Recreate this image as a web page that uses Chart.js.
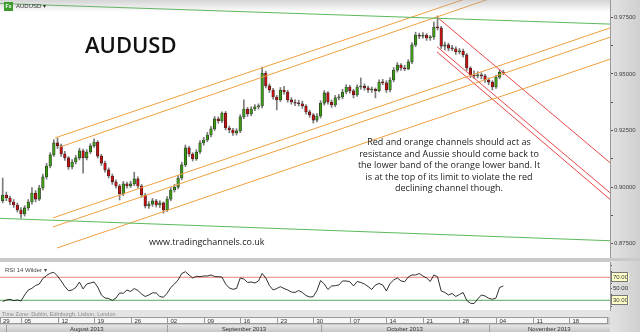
<!DOCTYPE html>
<html>
<head>
<meta charset="utf-8">
<script src="https://cdn.jsdelivr.net/npm/chart.js@4.4.0/dist/chart.umd.min.js"></script>
<style>
  body { margin: 0; width: 640px; height: 332px; overflow: hidden; position: relative; background: #c9c9c9; font-family: 'Liberation Sans', sans-serif; }
  canvas { position: absolute; left: 0; }
  #mainChart { top: 0; }
  #rsiChart { top: 261px; }
  .txt { position: absolute; white-space: nowrap; }
  #topShade { position: absolute; left: 0; top: 0; width: 610px; height: 12px; background: linear-gradient(rgba(160,160,160,.45), rgba(255,255,255,0)); }
  #hdr { left: 4px; top: 2px; font-size: 6px; line-height: 9px; color: #333; }
  #hdr b { display: inline-block; width: 9px; height: 9px; background: #3a9a2a; color: #fff; font-size: 5px; text-align: center; margin-right: 3px; vertical-align: top; }
  #title { left: 85px; top: 33px; font: 600 22px/22px 'Open Sans', sans-serif; color: #111; }
  #note { left: 329px; top: 136px; width: 240px; text-align: center; font: 9px/11.6px 'Open Sans', sans-serif; color: #222; }
  #site { left: 149px; top: 236px; font: 9px/12px 'Open Sans', sans-serif; color: #222; }
  #rsiName { left: 5px; top: 266px; font-size: 6px; color: #444; }
</style>
</head>
<body>
<canvas id="mainChart" width="640" height="258"></canvas>
<canvas id="rsiChart" width="640" height="71"></canvas>
<div id="topShade"></div>
<div class="txt" id="hdr"><b>Fx</b>AUDUSD &#9662;</div>
<div class="txt" id="title">AUDUSD</div>
<div class="txt" id="note">Red and orange channels should act as<br>resistance and Aussie should come back to<br>the lower band of the orange lower band. It<br>is at the top of its limit to violate the red<br>declining channel though.</div>
<div class="txt" id="site">www.tradingchannels.co.uk</div>
<div class="txt" id="rsiName">RSI 14 Wilder &#9662;</div>
<script>
// x values are trading-day indexes, Mon 29 Jul 2013 = 0; two candles per day
const FIRST_DAY = 2.5;
const STEP = 0.5;
const FIRST_OPEN = 0.8940;

const closes = [
  0.8965, 0.8952, 0.8934, 0.8921, 0.8899, 0.8881, 0.8908, 0.8934, 0.8974, 0.8947,
  0.8996, 0.9045, 0.9093, 0.9142, 0.9195, 0.9182, 0.9146, 0.9129, 0.9089, 0.9111,
  0.9129, 0.9160, 0.9129, 0.9155, 0.9182, 0.9199, 0.9137, 0.9106, 0.9076, 0.9049,
  0.9023, 0.9005, 0.8970, 0.9014, 0.9005, 0.9014, 0.9036, 0.9005, 0.8965, 0.8917,
  0.8925, 0.8939, 0.8921, 0.8930, 0.8899, 0.8947, 0.8987, 0.9000, 0.9040, 0.9098,
  0.9173, 0.9146, 0.9124, 0.9155, 0.9195, 0.9208, 0.9230, 0.9257, 0.9301, 0.9292,
  0.9327, 0.9261, 0.9252, 0.9239, 0.9248, 0.9310, 0.9345, 0.9323, 0.9345, 0.9354,
  0.9358, 0.9504, 0.9447, 0.9429, 0.9398, 0.9385, 0.9429, 0.9420, 0.9385, 0.9376,
  0.9371, 0.9368, 0.9358, 0.9332, 0.9319, 0.9296, 0.9314, 0.9371, 0.9416, 0.9376,
  0.9363, 0.9394, 0.9398, 0.9420, 0.9442, 0.9425, 0.9407, 0.9442, 0.9446, 0.9438,
  0.9429, 0.9432, 0.9426, 0.9464, 0.9460, 0.9429, 0.9473, 0.9517, 0.9539, 0.9526,
  0.9522, 0.9553, 0.9628, 0.9672, 0.9667, 0.9672, 0.9659, 0.9663, 0.9707, 0.9703,
  0.9623, 0.9628, 0.9614, 0.9611, 0.9597, 0.9601, 0.9584, 0.9526, 0.9495, 0.9491,
  0.9495, 0.9491, 0.9473, 0.9464, 0.9442, 0.9486, 0.9508, 0.9504
];
const highs = [
  0.9040, 0.8978, 0.8960, 0.8945, 0.8930, 0.8910, 0.8918, 0.8945, 0.8998, 0.8985,
  0.9008, 0.9058, 0.9105, 0.9152, 0.9210, 0.9217, 0.9190, 0.9158, 0.9135, 0.9122,
  0.9140, 0.9172, 0.9168, 0.9165, 0.9192, 0.9213, 0.9205, 0.9145, 0.9115, 0.9085,
  0.9058, 0.9032, 0.9012, 0.9025, 0.9022, 0.9026, 0.9066, 0.9045, 0.9012, 0.8972,
  0.8936, 0.8950, 0.8946, 0.8940, 0.8935, 0.8958, 0.8998, 0.9012, 0.9052, 0.9110,
  0.9186, 0.9180, 0.9152, 0.9165, 0.9206, 0.9220, 0.9242, 0.9268, 0.9312, 0.9310,
  0.9332, 0.9334, 0.9270, 0.9260, 0.9258, 0.9320, 0.9385, 0.9352, 0.9355, 0.9365,
  0.9368, 0.9530, 0.9512, 0.9456, 0.9436, 0.9405, 0.9440, 0.9445, 0.9428, 0.9395,
  0.9386, 0.9384, 0.9380, 0.9365, 0.9340, 0.9325, 0.9325, 0.9382, 0.9426, 0.9422,
  0.9385, 0.9405, 0.9410, 0.9432, 0.9452, 0.9450, 0.9432, 0.9452, 0.9482, 0.9456,
  0.9446, 0.9442, 0.9438, 0.9474, 0.9476, 0.9470, 0.9484, 0.9528, 0.9550, 0.9546,
  0.9538, 0.9563, 0.9638, 0.9684, 0.9680, 0.9683, 0.9678, 0.9670, 0.9729, 0.9756,
  0.9710, 0.9640, 0.9636, 0.9626, 0.9620, 0.9612, 0.9610, 0.9590, 0.9532, 0.9514,
  0.9510, 0.9505, 0.9498, 0.9482, 0.9470, 0.9495, 0.9518, 0.9516
];
const lows = [
  0.8930, 0.8940, 0.8922, 0.8910, 0.8890, 0.8863, 0.8872, 0.8898, 0.8925, 0.8935,
  0.8940, 0.8988, 0.9035, 0.9085, 0.9135, 0.9170, 0.9135, 0.9118, 0.9078, 0.9080,
  0.9102, 0.9120, 0.9062, 0.9120, 0.9148, 0.9175, 0.9128, 0.9096, 0.9066, 0.9040,
  0.9012, 0.8995, 0.8943, 0.8962, 0.8995, 0.8998, 0.9006, 0.8996, 0.8955, 0.8908,
  0.8906, 0.8915, 0.8912, 0.8910, 0.8885, 0.8892, 0.8940, 0.8978, 0.8992, 0.9032,
  0.9090, 0.9136, 0.9115, 0.9118, 0.9148, 0.9185, 0.9200, 0.9222, 0.9250, 0.9282,
  0.9285, 0.9252, 0.9240, 0.9228, 0.9230, 0.9240, 0.9302, 0.9312, 0.9315, 0.9338,
  0.9345, 0.9350, 0.9438, 0.9418, 0.9388, 0.9341, 0.9378, 0.9410, 0.9375, 0.9366,
  0.9360, 0.9358, 0.9348, 0.9322, 0.9308, 0.9283, 0.9288, 0.9305, 0.9362, 0.9366,
  0.9352, 0.9355, 0.9385, 0.9390, 0.9412, 0.9415, 0.9394, 0.9400, 0.9432, 0.9428,
  0.9418, 0.9418, 0.9394, 0.9420, 0.9452, 0.9418, 0.9420, 0.9465, 0.9508, 0.9515,
  0.9514, 0.9518, 0.9545, 0.9620, 0.9656, 0.9658, 0.9648, 0.9648, 0.9652, 0.9694,
  0.9612, 0.9606, 0.9602, 0.9603, 0.9586, 0.9588, 0.9574, 0.9515, 0.9484, 0.9480,
  0.9482, 0.9478, 0.9462, 0.9452, 0.9429, 0.9436, 0.9478, 0.9496
];
const rsi = [
  27.9, 30.5, 31.7, 29.3, 30.5, 28.8, 39.2, 47.9, 50.9, 55.7,
  58.3, 67.9, 73.1, 77.0, 78.7, 72.3, 63.6, 54.0, 46.7, 47.9,
  52.3, 61.8, 49.7, 58.3, 60.1, 61.8, 53.1, 39.2, 34.0, 33.1,
  29.7, 34.0, 42.7, 42.2, 47.9, 45.3, 50.5, 47.0, 41.0, 36.6,
  39.2, 43.0, 42.7, 36.6, 35.2, 42.2, 52.3, 58.3, 65.3, 76.6,
  79.7, 74.0, 68.8, 71.7, 71.0, 72.3, 72.3, 74.0, 71.4, 71.0,
  70.5, 58.3, 51.4, 49.1, 50.5, 68.8, 67.0, 61.0, 61.8, 60.1,
  63.6, 76.6, 68.8, 55.7, 47.9, 50.5, 53.7, 50.5, 47.9, 44.4,
  43.6, 47.0, 43.6, 38.3, 35.7, 36.3, 47.0, 64.4, 58.3, 48.8,
  54.9, 55.4, 56.6, 63.6, 63.6, 62.3, 54.9, 62.7, 61.0, 58.3,
  54.0, 48.8, 56.6, 59.2, 56.6, 46.2, 59.2, 65.3, 68.8, 63.6,
  62.3, 70.5, 74.0, 74.0, 76.6, 72.3, 68.8, 62.7, 74.0, 71.0,
  46.2, 43.6, 39.2, 41.9, 36.6, 40.1, 43.6, 29.7, 24.8, 24.4,
  32.3, 39.2, 37.5, 33.5, 31.7, 34.0, 52.3, 54.9
];

// trend lines drawn on the chart: [[day, price], [day, price]]
const greenLines = [
  [[2.13, 0.9811], [85.6, 0.9720]],
  [[2.13, 0.8862], [85.6, 0.8763]]
];
const orangeLines = [
  [[9.65, 0.9217], [70.0, 0.9877]],
  [[10.34, 0.9177], [72.0, 0.9864]],
  [[9.38, 0.8864], [85.6, 0.9703]],
  [[9.38, 0.8824], [85.6, 0.9662]],
  [[9.93, 0.8731], [85.6, 0.9565]]
];
const redLines = [
  [[61.93, 0.9751], [85.6, 0.9108]],
  [[61.93, 0.9620], [85.6, 0.8975]],
  [[61.93, 0.9597], [85.6, 0.8946]]
];

const priceTicks = [0.875, 0.9, 0.925, 0.95, 0.975];
const priceMinorTicks = [0.8875, 0.9125, 0.9375, 0.9625];
const rsiTicks = [20, 30, 40, 50, 60, 70, 80, 90];
const rsiLabelled = [70, 50, 30];
const rsiOver = 70;
const rsiUnder = 30;

const weekDays = [0, 5, 10, 15, 20, 25, 30, 35, 40, 45, 50, 55, 60, 65, 70, 75, 80];
const weekLabels = ['29', '05', '12', '19', '26', '02', '09', '16', '23', '30', '07', '14', '21', '28', '04', '11', '18'];
const monthStarts = [3, 25, 46, 69];
const monthLabels = ['August 2013', 'September 2013', 'October 2013', 'November 2013'];
const timeZone = 'Time Zone: Dublin, Edinburgh, Lisbon, London';

const X_MIN = 2.13, X_MAX = 85.6;
const UP = '#3c9a14';
const DOWN = '#c41010';

Chart.defaults.font.family = "'Liberation Sans', sans-serif";
Chart.defaults.font.size = 6;
Chart.defaults.color = '#444';

const days = closes.map((_, i) => FIRST_DAY + i * STEP);
const opens = closes.map((c, i) => i ? closes[i - 1] : FIRST_OPEN);

const lineSet = (pts, color, width = 1) => ({
  type: 'line',
  data: pts.map(([x, y]) => ({ x, y })),
  borderColor: color,
  borderWidth: width,
  pointRadius: 0,
  order: 0
});

const axisPanel = {
  id: 'axisPanel',
  beforeDraw(chart) {
    const { ctx, chartArea: a } = chart;
    ctx.save();
    ctx.fillStyle = '#fff';
    ctx.fillRect(a.left, a.top, a.right - a.left, a.bottom - a.top);
    const g = ctx.createLinearGradient(a.right, 0, chart.width, 0);
    g.addColorStop(0, '#e2e2e2');
    g.addColorStop(1, '#d0d0d0');
    ctx.fillStyle = g;
    ctx.fillRect(a.right, 0, chart.width - a.right, chart.height);
    ctx.restore();
  }
};

const fixAxis = (scale) => {
  scale.width = 30;
  scale.paddingTop = 0;
  scale.paddingBottom = 0;
};

new Chart(document.getElementById('mainChart'), {
  type: 'bar',
  data: {
    datasets: [
      ...greenLines.map(l => lineSet(l, '#5cb85c')),
      ...orangeLines.map(l => lineSet(l, '#f0a040')),
      ...redLines.map(l => lineSet(l, '#e84848')),
      {
        data: days.map((d, i) => ({ x: d, y: [opens[i], closes[i]] })),
        backgroundColor: closes.map((c, i) => c >= opens[i] ? UP : DOWN),
        borderColor: '#222',
        borderWidth: 0.6,
        borderSkipped: false,
        barThickness: 2.6,
        minBarLength: 1,
        grouped: false,
        order: 1
      },
      {
        data: days.map((d, i) => ({ x: d, y: [lows[i], highs[i]] })),
        backgroundColor: '#7c7c7c',
        borderWidth: 0,
        barThickness: 1,
        grouped: false,
        order: 2
      }
    ]
  },
  options: {
    responsive: false,
    animation: false,
    events: [],
    layout: { padding: 0 },
    plugins: { legend: { display: false }, tooltip: { enabled: false } },
    scales: {
      x: { type: 'linear', min: X_MIN, max: X_MAX, offset: false, display: false },
      y: {
        position: 'right',
        min: 0.86868,
        max: 0.98264,
        afterFit: fixAxis,
        afterBuildTicks: (s) => { s.ticks = priceTicks.concat(priceMinorTicks).sort().map(v => ({ value: v })); },
        ticks: {
          autoSkip: false,
          callback: (v) => priceTicks.includes(v) ? Number(v).toFixed(5) : '',
          padding: 1,
          color: '#444'
        },
        grid: { drawOnChartArea: false, tickLength: 3, tickColor: '#555' },
        border: { color: '#999' }
      }
    }
  },
  plugins: [axisPanel]
});

const dateRows = {
  id: 'dateRows',
  afterDraw(chart) {
    const { ctx, chartArea: a, scales: { x, y } } = chart;
    const H = chart.height;
    ctx.save();
    // time zone strip
    ctx.fillStyle = '#e4e4e4';
    ctx.fillRect(0, a.bottom, a.right, 7);
    ctx.fillStyle = '#8a8a8a';
    ctx.font = "5.5px 'Liberation Sans'";
    ctx.fillText(timeZone, 2, a.bottom + 6);
    // week row
    const dTop = a.bottom + 7;
    ctx.fillStyle = '#f6f6f6';
    ctx.fillRect(0, dTop, a.right - 2, 7);
    ctx.strokeStyle = '#9a9a9a';
    ctx.lineWidth = 1;
    ctx.strokeRect(0.5, dTop + 0.5, a.right - 3, 6);
    ctx.fillStyle = '#333';
    ctx.font = "6px 'Liberation Sans'";
    weekDays.forEach((d, i) => {
      const px = Math.round(x.getPixelForValue(d)) + 0.5;
      if (px > 0 && px < a.right - 2) {
        ctx.beginPath(); ctx.moveTo(px, dTop); ctx.lineTo(px, dTop + 7); ctx.stroke();
      }
      ctx.fillText(weekLabels[i], Math.max(px, 0) + 3, dTop + 6);
    });
    // month row
    const mTop = dTop + 8;
    const g = ctx.createLinearGradient(0, mTop, 0, H);
    g.addColorStop(0, '#e6e6e6');
    g.addColorStop(1, '#c6c6c6');
    ctx.fillStyle = g;
    ctx.fillRect(0, mTop, a.right, H - mTop);
    ctx.strokeStyle = '#a0a0a0';
    ctx.textAlign = 'center';
    monthStarts.forEach((d, i) => {
      const left = Math.max(x.getPixelForValue(d), 0);
      const right = i + 1 < monthStarts.length ? x.getPixelForValue(monthStarts[i + 1]) : a.right;
      const px = Math.round(left) + 0.5;
      ctx.beginPath(); ctx.moveTo(px, mTop); ctx.lineTo(px, H); ctx.stroke();
      ctx.fillStyle = '#333';
      ctx.fillText(monthLabels[i], (left + Math.min(right, a.right)) / 2, mTop + 6);
    });
    // boxed level tags on the rsi axis
    ctx.strokeStyle = '#777';
    [rsiOver, rsiUnder].forEach(v => {
      const py = Math.round(y.getPixelForValue(v));
      ctx.strokeRect(a.right + 1.5, py - 4.5, 16, 9);
    });
    ctx.restore();
  }
};

new Chart(document.getElementById('rsiChart'), {
  type: 'line',
  data: {
    datasets: [
      {
        data: days.map((d, i) => ({ x: d, y: rsi[i] })),
        borderColor: '#1a1a1a',
        borderWidth: 0.9,
        pointRadius: 0,
        tension: 0,
        order: 0
      },
      lineSet([[X_MIN, rsiOver], [X_MAX, rsiOver]], '#ee8080'),
      lineSet([[X_MIN, rsiUnder], [X_MAX, rsiUnder]], '#5aa85a')
    ]
  },
  options: {
    responsive: false,
    animation: false,
    events: [],
    layout: { padding: { top: 1, bottom: 22, left: 0, right: 0 } },
    plugins: { legend: { display: false }, tooltip: { enabled: false } },
    scales: {
      x: { type: 'linear', min: X_MIN, max: X_MAX, display: false },
      y: {
        position: 'right',
        min: 13.1,
        max: 96.6,
        afterFit: fixAxis,
        afterBuildTicks: (s) => { s.ticks = rsiTicks.map(v => ({ value: v })); },
        ticks: {
          autoSkip: false,
          callback: (v) => rsiLabelled.includes(v) ? v.toFixed(2) : '',
          padding: 1,
          color: '#333',
          showLabelBackdrop: (c) => c.tick && (c.tick.value === rsiOver || c.tick.value === rsiUnder),
          backdropColor: '#ffffc8',
          backdropPadding: 1
        },
        grid: { drawOnChartArea: false, tickColor: '#555', tickLength: 2 },
        border: { color: '#999' }
      }
    }
  },
  plugins: [axisPanel, dateRows]
});
</script>
</body>
</html>
